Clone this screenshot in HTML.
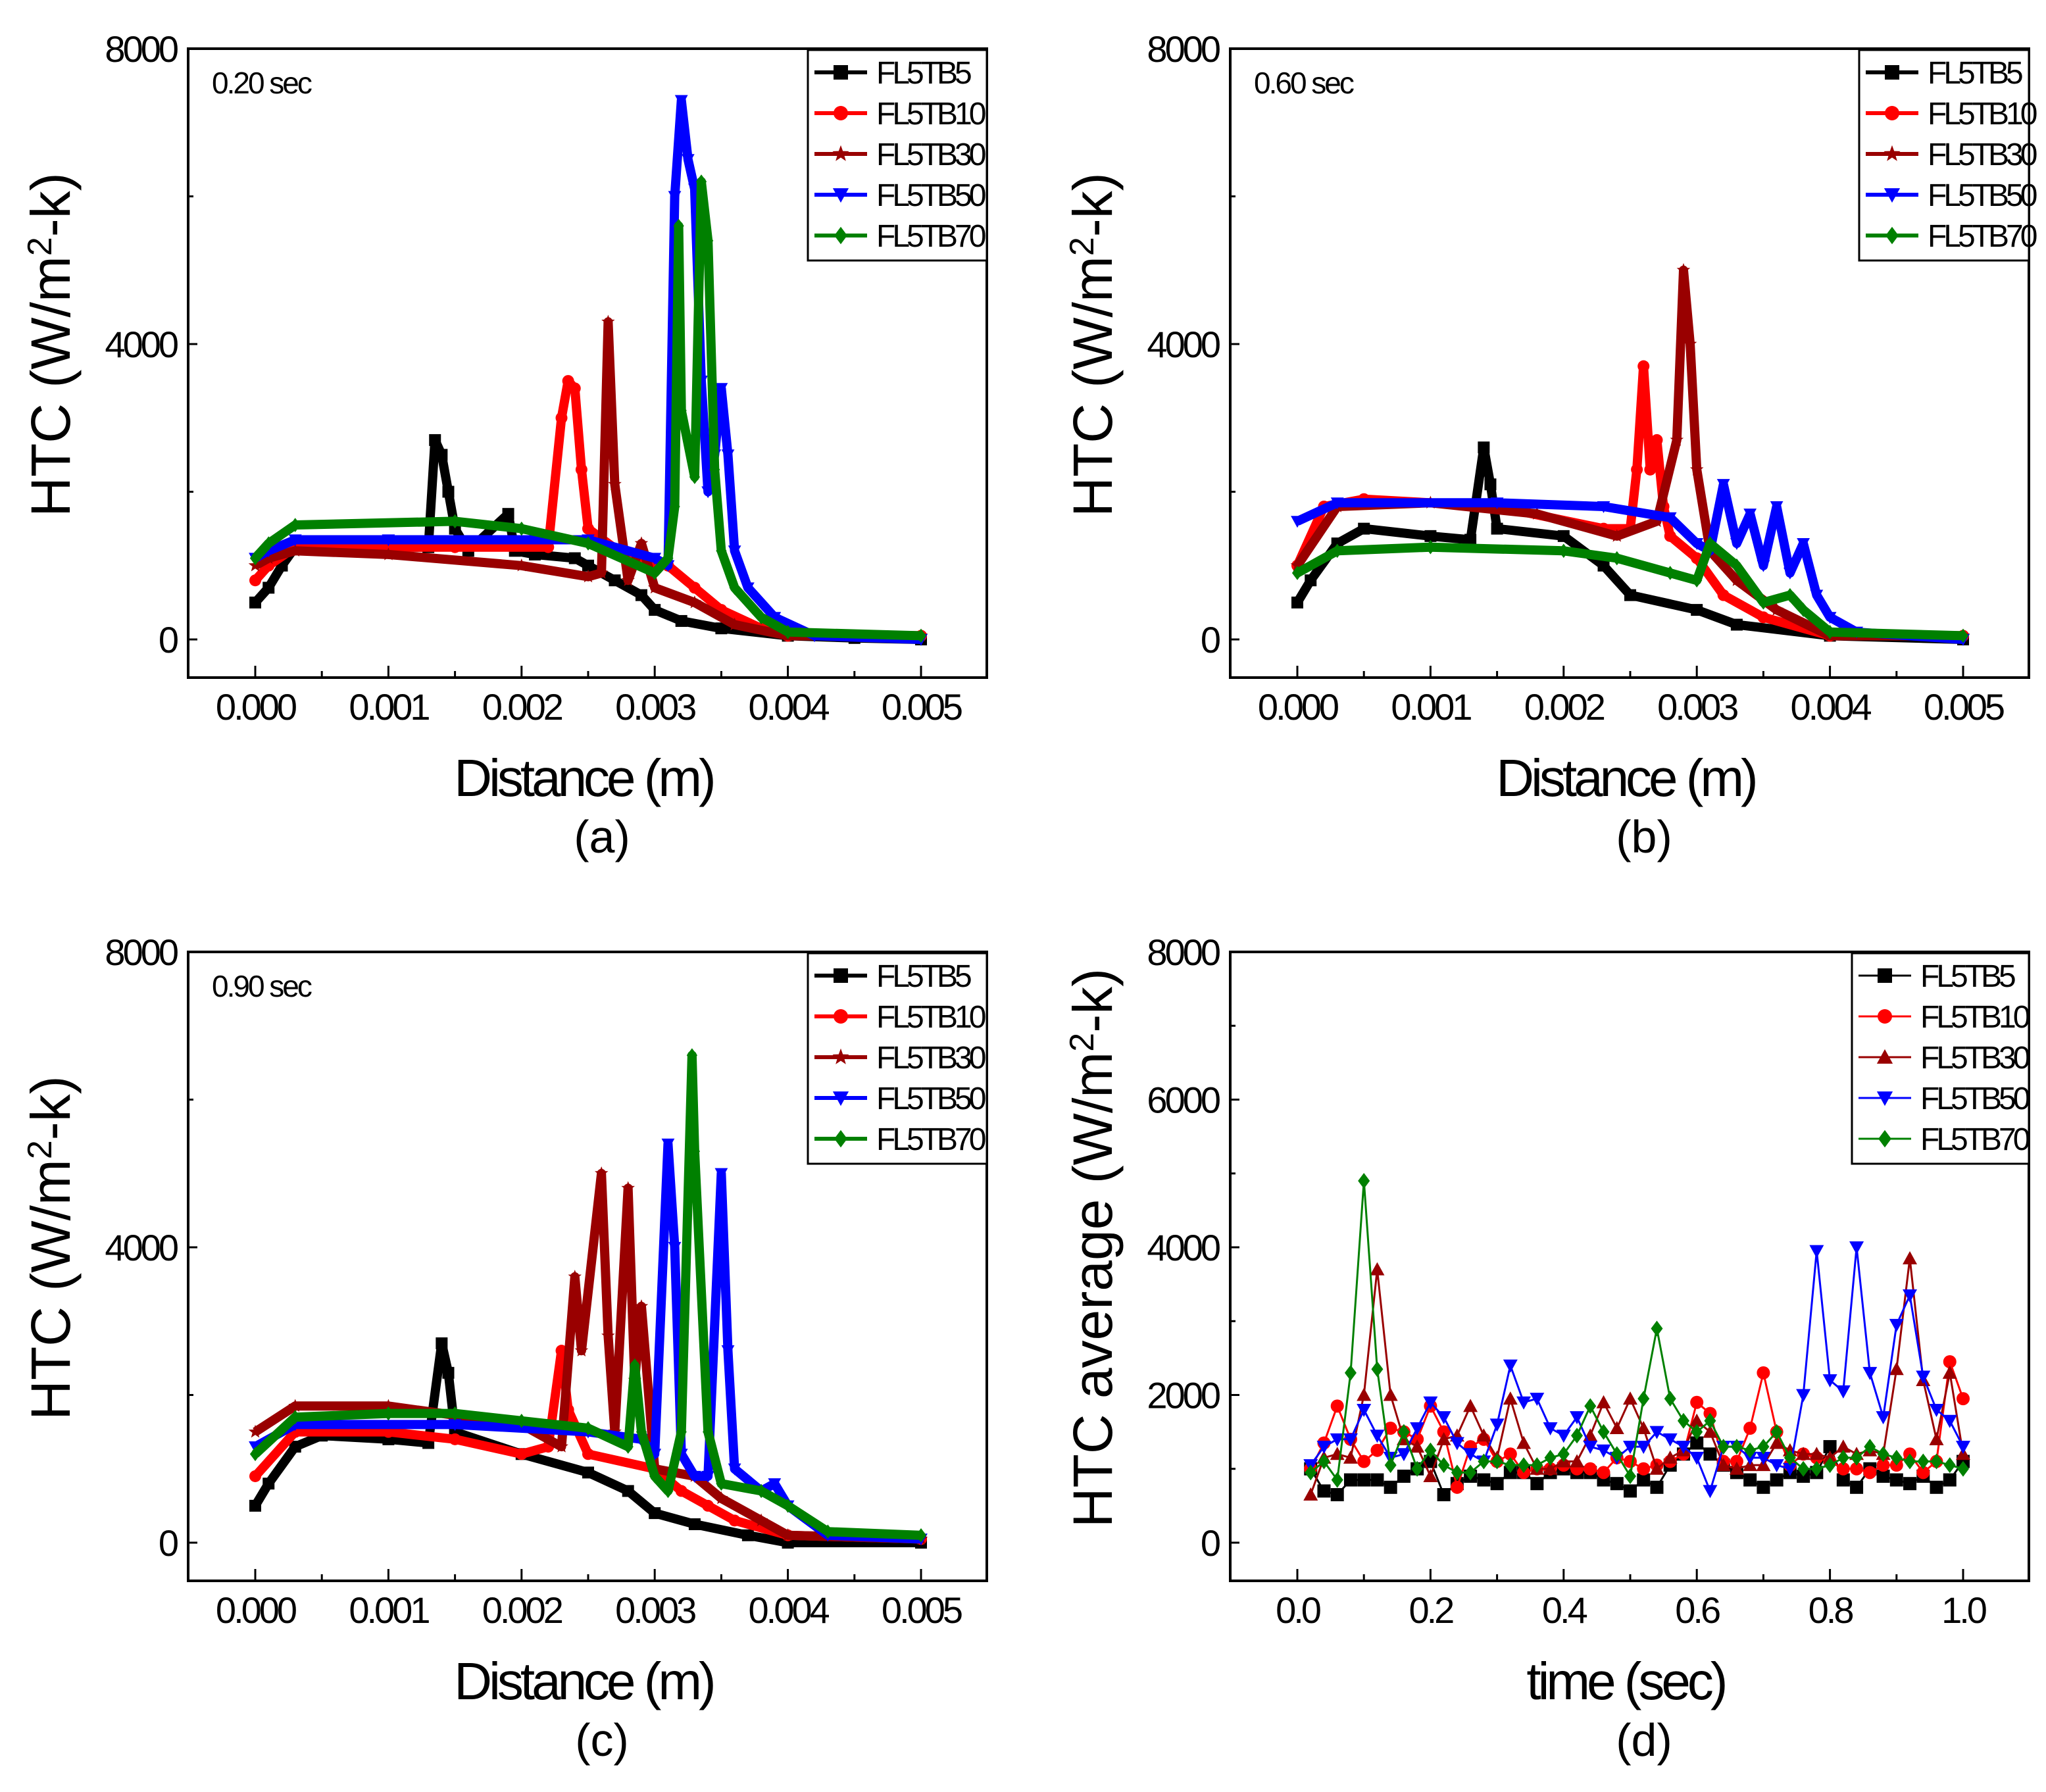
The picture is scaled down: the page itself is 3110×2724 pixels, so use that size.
<!DOCTYPE html>
<html><head><meta charset="utf-8">
<style>
html,body{margin:0;padding:0;background:#fff}
svg{display:block}
text{font-family:"Liberation Sans",Arial,sans-serif}
</style></head>
<body>
<svg id="chart" xmlns="http://www.w3.org/2000/svg" width="3110" height="2724" viewBox="0 0 3110 2724"></svg>
<script>
// ---------- DATA ----------
const seriesNames = ["FL5TB5","FL5TB10","FL5TB30","FL5TB50","FL5TB70"];
const xTicks = [0,0.001,0.002,0.003,0.004,0.005];
const xTickLabels = ["0.000","0.001","0.002","0.003","0.004","0.005"];
const yTicksABC = [0,4000,8000];
const yTicksD = [0,2000,4000,6000,8000];
const tTicks = [0,0.2,0.4,0.6,0.8,1.0];
const tTickLabels = ["0.0","0.2","0.4","0.6","0.8","1.0"];

// Panel (a) 0.20 sec
const aX5 = [0,0.0001,0.0002,0.0003,0.0006,0.001,0.0013,0.00135,0.0014,0.00145,0.0015,0.0016,0.0019,0.00195,0.0021,0.0024,0.0025,0.0027,0.0029,0.003,0.0032,0.0035,0.004,0.0045,0.005];
const aY5 = [500,700,1000,1250,1250,1250,1250,2700,2500,2000,1500,1200,1700,1200,1150,1100,1000,800,600,400,250,150,50,20,0];
const aX10 = [0,0.0001,0.0003,0.001,0.0015,0.0022,0.0023,0.00235,0.0024,0.00245,0.0025,0.0028,0.0031,0.0033,0.0035,0.0038,0.004,0.005];
const aY10 = [800,1000,1250,1250,1250,1250,3000,3500,3400,2300,1500,1100,1000,700,400,150,50,50];
const aX30 = [0,0.0001,0.0003,0.001,0.002,0.0025,0.0026,0.00265,0.0027,0.0028,0.0029,0.003,0.0033,0.0036,0.004,0.005];
const aY30 = [1000,1100,1200,1150,1000,850,900,4300,2100,800,1300,700,500,200,50,50];
const aX50 = [0,0.0001,0.0003,0.001,0.0025,0.003,0.0031,0.00315,0.0032,0.00325,0.0033,0.00335,0.0034,0.00345,0.0035,0.00355,0.0036,0.0037,0.0039,0.0042,0.005];
const aY50 = [1100,1200,1350,1350,1350,1100,1000,6000,7300,6500,6100,3500,2000,2500,3400,2500,1200,700,300,50,0];
const aX70 = [0,0.0001,0.0003,0.0015,0.002,0.0025,0.003,0.0031,0.00315,0.00318,0.0032,0.0033,0.00335,0.0034,0.00345,0.0035,0.0036,0.0038,0.004,0.005];
const aY70 = [1100,1300,1550,1600,1500,1300,900,1100,1800,5600,3100,2200,6200,5400,2300,1200,700,300,100,50];

// Panel (b) 0.60 sec
const bX5 = [0,0.0001,0.0003,0.0005,0.001,0.0013,0.0014,0.00145,0.0015,0.002,0.0023,0.0025,0.003,0.0033,0.004,0.005];
const bY5 = [500,800,1300,1500,1400,1350,2600,2100,1500,1400,1000,600,400,200,50,0];
const bX10 = [0,0.0002,0.0005,0.0015,0.0023,0.0025,0.00255,0.0026,0.00265,0.0027,0.00275,0.0028,0.003,0.0032,0.0035,0.004,0.005];
const bY10 = [1000,1800,1900,1800,1500,1500,2300,3700,2300,2700,1800,1400,1100,600,300,50,50];
const bX30 = [0,0.0003,0.001,0.0018,0.0024,0.0027,0.00285,0.0029,0.00295,0.003,0.0031,0.0033,0.0036,0.004,0.005];
const bY30 = [1000,1800,1850,1700,1400,1600,2700,5000,4000,2300,1200,800,400,50,50];
const bX50 = [0,0.0003,0.0015,0.0023,0.0028,0.003,0.0031,0.0032,0.0033,0.0034,0.0035,0.0036,0.0037,0.0038,0.0039,0.004,0.0042,0.005];
const bY50 = [1600,1850,1850,1800,1650,1300,1200,2100,1300,1700,1000,1800,900,1300,600,300,100,0];
const bX70 = [0,0.0003,0.001,0.002,0.0024,0.0028,0.003,0.0031,0.0033,0.0035,0.0037,0.0038,0.004,0.005];
const bY70 = [900,1200,1250,1200,1100,900,800,1300,1000,500,600,400,100,50];

// Panel (c) 0.90 sec
const cX5 = [0,0.0001,0.0003,0.0005,0.001,0.0013,0.0014,0.00145,0.0015,0.002,0.0025,0.0028,0.003,0.0033,0.0037,0.004,0.005];
const cY5 = [500,800,1300,1450,1400,1350,2700,2300,1500,1200,950,700,400,250,100,0,0];
const cX10 = [0,0.0003,0.001,0.0015,0.002,0.0022,0.0023,0.00235,0.0025,0.003,0.0032,0.0034,0.0036,0.004,0.005];
const cY10 = [900,1500,1500,1400,1200,1300,2600,1800,1200,1000,700,500,300,100,50];
const cX30 = [0,0.0003,0.001,0.002,0.0023,0.0024,0.00245,0.0026,0.00265,0.0027,0.0028,0.00285,0.0029,0.003,0.0033,0.0035,0.0038,0.004,0.005];
const cY30 = [1500,1850,1850,1600,1300,3600,2600,5000,2800,1500,4800,2200,3200,1000,900,600,300,100,50];
const cX50 = [0,0.0003,0.0015,0.0025,0.0029,0.003,0.0031,0.00315,0.0032,0.0033,0.0034,0.0035,0.00355,0.0036,0.0038,0.0039,0.004,0.0043,0.005];
const cY50 = [1300,1600,1600,1500,1400,1200,5400,4000,1200,900,900,5000,2600,1000,700,800,500,100,50];
const cX70 = [0,0.0003,0.001,0.0015,0.002,0.0025,0.0028,0.00285,0.0029,0.003,0.0031,0.0032,0.00328,0.0033,0.0034,0.0035,0.0038,0.004,0.0043,0.005];
const cY70 = [1200,1700,1750,1750,1650,1550,1300,2400,1500,900,700,1500,6600,5300,1500,800,700,500,150,100];

// Panel (d) average vs time
const dTime = [0.02,0.04,0.06,0.08,0.10,0.12,0.14,0.16,0.18,0.20,0.22,0.24,0.26,0.28,0.30,0.32,0.34,0.36,0.38,0.40,0.42,0.44,0.46,0.48,0.50,0.52,0.54,0.56,0.58,0.60,0.62,0.64,0.66,0.68,0.70,0.72,0.74,0.76,0.78,0.80,0.82,0.84,0.86,0.88,0.90,0.92,0.94,0.96,0.98,1.00];
const d5 = [1000,700,650,850,850,850,750,900,1000,1100,650,800,900,850,800,950,950,800,950,1000,950,950,850,800,700,850,750,1050,1200,1350,1200,1050,950,850,750,850,950,900,950,1300,850,750,1000,900,850,800,900,750,850,1100];
const d10 = [1000,1350,1850,1400,1100,1250,1550,1500,1400,1850,1500,750,1300,1400,1100,1200,950,1000,1000,1050,1000,1000,950,1150,1100,1000,1050,1100,1200,1900,1750,1100,1100,1550,2300,1500,1050,1200,1150,1100,1000,1000,950,1050,1050,1200,950,1100,2450,1950];
const d30 = [650,1150,1200,1150,2000,3700,2000,1400,1300,900,1400,1450,1850,1450,1150,1950,1350,1000,1000,1100,1100,1450,1900,1550,1950,1550,1000,1150,1250,1650,1500,1050,1000,1050,1050,1350,1250,1200,1200,1150,1300,1200,1250,1200,2350,3850,2200,1400,2300,1200];
const d50 = [1050,1300,1400,1400,1800,1450,1150,1200,1550,1900,1700,1350,1200,1100,1600,2400,1900,1950,1550,1450,1700,1300,1250,1150,1300,1300,1500,1400,1300,1150,700,1300,1300,1150,1150,1050,1000,2000,3950,2200,2050,4000,2300,1700,2950,3350,2250,1800,1650,1300];
const d70 = [950,1100,850,2300,4900,2350,1050,1500,1000,1250,1050,950,950,1100,1100,1050,1050,1050,1150,1200,1450,1850,1500,1200,900,1950,2900,1950,1650,1500,1650,1300,1300,1250,1300,1500,1150,1000,1000,1050,1150,1150,1300,1200,1150,1100,1100,1100,1050,1000];

// ---------- STYLE ----------
const colors = ["#000000","#ff0000","#990000","#0000ff","#008000"];
const NS = "http://www.w3.org/2000/svg";
const svg = document.getElementById("chart");
const PW = 1214, PH = 956;

function mk(tag, attrs, parent){
  const e = document.createElementNS(NS, tag);
  for (const k in attrs) e.setAttribute(k, attrs[k]);
  (parent||svg).appendChild(e);
  return e;
}
function txt(str, attrs, parent){
  const e = mk("text", attrs, parent);
  e.textContent = str;
  return e;
}
function marker(shape, cx, cy, s, color, parent){
  let e;
  if (shape==="square") e = mk("rect",{x:cx-s/2,y:cy-s/2,width:s,height:s,fill:color},parent);
  else if (shape==="circle") e = mk("circle",{cx:cx,cy:cy,r:s/2,fill:color},parent);
  else if (shape==="star"){
    let p=[]; for(let i=0;i<10;i++){const r=i%2?s*0.25:s*0.6;const a=-Math.PI/2+i*Math.PI/5;p.push((cx+r*Math.cos(a)).toFixed(1)+","+(cy+r*Math.sin(a)).toFixed(1));}
    e = mk("polygon",{points:p.join(" "),fill:color},parent);
  }
  else if (shape==="tridown") e = mk("polygon",{points:`${cx-s*0.55},${cy-s*0.45} ${cx+s*0.55},${cy-s*0.45} ${cx},${cy+s*0.55}`,fill:color},parent);
  else if (shape==="triup") e = mk("polygon",{points:`${cx-s*0.55},${cy+s*0.45} ${cx+s*0.55},${cy+s*0.45} ${cx},${cy-s*0.55}`,fill:color},parent);
  else e = mk("polygon",{points:`${cx},${cy-s*0.6} ${cx+s*0.45},${cy} ${cx},${cy+s*0.6} ${cx-s*0.45},${cy}`,fill:color},parent);
  
  
  return e;
}

function panel(cfg){
  const g = mk("g",{});
  
  
  const x0=cfg.x0, y0=cfg.y0;
  const px0 = x0+102, px1 = x0+1114;
  const sx = v => px0 + (v-cfg.xmin)/(cfg.xmax-cfg.xmin)*(px1-px0);
  const sy = v => y0+898 - v/8000*898;
  const cid = "clip-"+cfg.name;
  const cp = mk("clipPath",{id:cid},g);
  mk("rect",{x:x0,y:y0,width:PW,height:PH},cp);
  const sg = mk("g",{"clip-path":`url(#${cid})`},g);
  cfg.series.forEach((s,i)=>{
    const pts = s.x.map((xv,j)=>sx(xv).toFixed(1)+","+sy(s.y[j]).toFixed(1)).join(" ");
    const pl = mk("polyline",{points:pts,fill:"none",stroke:colors[i],"stroke-width":cfg.lw,"stroke-linejoin":"round"},sg);
    
    
    s.x.forEach((xv,j)=>marker(cfg.shapes[i], sx(xv), sy(s.y[j]), cfg.ms, colors[i], sg));
  });
  const fr = mk("rect",{x:x0,y:y0,width:PW,height:PH,fill:"none",stroke:"#000","stroke-width":4},g);
  
  
  cfg.xt.forEach((v,i)=>{
    const X=sx(v);
    mk("line",{x1:X,y1:y0+PH,x2:X,y2:y0+PH-18,stroke:"#000","stroke-width":3},g);
    if(i<cfg.xt.length-1){const Xm=(X+sx(cfg.xt[i+1]))/2; mk("line",{x1:Xm,y1:y0+PH,x2:Xm,y2:y0+PH-10,stroke:"#000","stroke-width":3},g);}
    const t = txt(cfg.xl[i],{x:X,y:y0+PH+64,"font-size":56,"text-anchor":"middle","letter-spacing":-4},g);
    
    
  });
  cfg.yt.forEach((v,i)=>{
    const Y=sy(v);
    mk("line",{x1:x0,y1:Y,x2:x0+14,y2:Y,stroke:"#000","stroke-width":3},g);
    if(i<cfg.yt.length-1){const Ym=(Y+sy(cfg.yt[i+1]))/2; mk("line",{x1:x0,y1:Ym,x2:x0+8,y2:Ym,stroke:"#000","stroke-width":3},g);}
    const t = txt(String(v),{x:x0-18,y:Y+20,"font-size":56,"text-anchor":"end","letter-spacing":-4},g);
    
    
  });
  if(cfg.tlabel){const t=txt(cfg.tlabel,{x:x0+36,y:y0+68,"font-size":46,"letter-spacing":-3},g);
    
    }
  const ycx = x0-180, ycy = y0+450;
  const yt = txt("",{x:ycx,y:ycy,"font-size":84,"text-anchor":"middle",transform:`rotate(-90 ${ycx} ${ycy})`},g);
  
  
  yt.innerHTML = cfg.ytitle + ' (W/m<tspan dy="-28" font-size="52">2</tspan><tspan dy="28">-k)</tspan>';
  const xtt = txt(cfg.xtitle,{x:x0+PW/2-6,y:y0+PH+180,"font-size":80,"text-anchor":"middle","letter-spacing":-5},g);
  
  
  const cap = txt(cfg.caption,{x:x0+PW/2+22,y:y0+PH+266,"font-size":70,"text-anchor":"middle"},g);
  
  
  const lx=cfg.lx, ly=y0+2, lw=PW-(lx-x0), lh=320;
  const lg = mk("g",{},g);
  
  
  mk("rect",{x:lx,y:ly,width:lw,height:lh,fill:"#fff",stroke:"#000","stroke-width":3},lg);
  seriesNames.forEach((n,i)=>{
    const yy = ly+34+i*62;
    const en = mk("g",{},lg);
    
    
    mk("line",{x1:lx+10,y1:yy,x2:lx+90,y2:yy,stroke:colors[i],"stroke-width":cfg.legLw},en);
    marker(cfg.shapes[i], lx+50, yy, 22, colors[i], en);
    txt(n,{x:lx+104,y:yy+17,"font-size":48,"letter-spacing":-5},en);
  });
}

const shapesABC = ["square","circle","star","tridown","diamond"];
panel({name:"panel-a",x0:286,y0:74,xmin:0,xmax:0.005,xt:xTicks,xl:xTickLabels,yt:yTicksABC,lw:14,ms:18,legLw:6,shapes:shapesABC,tlabel:"0.20 sec",ytitle:"HTC",xtitle:"Distance (m)",caption:"(a)",lx:1228,
  series:[{x:aX5,y:aY5},{x:aX10,y:aY10},{x:aX30,y:aY30},{x:aX50,y:aY50},{x:aX70,y:aY70}]});
panel({name:"panel-b",x0:1870,y0:74,xmin:0,xmax:0.005,xt:xTicks,xl:xTickLabels,yt:yTicksABC,lw:14,ms:18,legLw:6,shapes:shapesABC,tlabel:"0.60 sec",ytitle:"HTC",xtitle:"Distance (m)",caption:"(b)",lx:2826,
  series:[{x:bX5,y:bY5},{x:bX10,y:bY10},{x:bX30,y:bY30},{x:bX50,y:bY50},{x:bX70,y:bY70}]});
panel({name:"panel-c",x0:286,y0:1447,xmin:0,xmax:0.005,xt:xTicks,xl:xTickLabels,yt:yTicksABC,lw:14,ms:18,legLw:6,shapes:shapesABC,tlabel:"0.90 sec",ytitle:"HTC",xtitle:"Distance (m)",caption:"(c)",lx:1228,
  series:[{x:cX5,y:cY5},{x:cX10,y:cY10},{x:cX30,y:cY30},{x:cX50,y:cY50},{x:cX70,y:cY70}]});
panel({name:"panel-d",x0:1870,y0:1447,xmin:0,xmax:1.0,xt:tTicks,xl:tTickLabels,yt:yTicksD,lw:3,ms:20,legLw:3,shapes:["square","circle","triup","tridown","diamond"],tlabel:"",ytitle:"HTC average",xtitle:"time (sec)",caption:"(d)",lx:2815,
  series:[{x:dTime,y:d5},{x:dTime,y:d10},{x:dTime,y:d30},{x:dTime,y:d50},{x:dTime,y:d70}]});
</script>
</body></html>
